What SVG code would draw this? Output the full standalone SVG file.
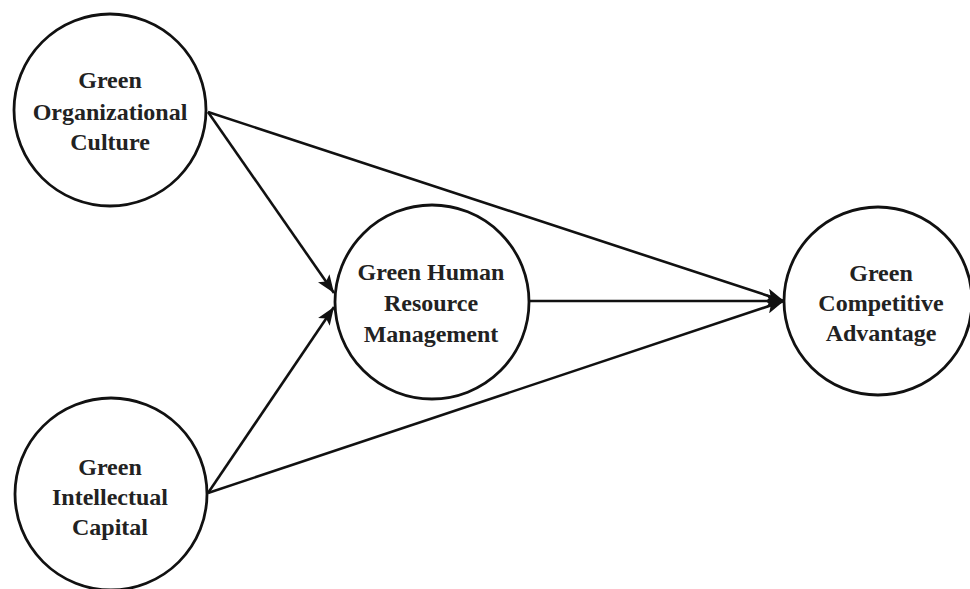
<svg xmlns="http://www.w3.org/2000/svg" width="970" height="589" viewBox="0 0 970 589">
<style>
.node circle{fill:#fff;stroke:#111;stroke-width:2.8}
.node text{font-family:"Liberation Serif","Times New Roman",serif;font-weight:bold;font-size:24px;fill:#222;text-anchor:middle}
.edge{stroke:#111;stroke-width:2.6;fill:none;marker-end:url(#arr)}
</style>
<defs>
<marker id="arr" viewBox="0 0 18 14" refX="18" refY="7" markerWidth="18" markerHeight="14" markerUnits="userSpaceOnUse" orient="auto">
<path d="M0,0 L18,7 L0,14 L4,7 z" fill="#111"/>
</marker>
</defs>
<rect width="970" height="589" fill="#fff"/>
<g id="connectors">
<line class="edge" x1="208" y1="112" x2="334" y2="293"/>
<line class="edge" x1="208" y1="112" x2="784" y2="301"/>
<line class="edge" x1="208" y1="493" x2="334" y2="307"/>
<line class="edge" x1="208" y1="493" x2="784" y2="301"/>
<line class="edge" x1="530" y1="301" x2="784" y2="301"/>
</g>
<g id="goc" class="node">
<circle cx="110" cy="110" r="96"/>
<text x="110" y="88">Green</text>
<text x="110" y="120">Organizational</text>
<text x="110" y="150">Culture</text>
</g>
<g id="gic" class="node">
<circle cx="111" cy="494" r="96"/>
<text x="110" y="475">Green</text>
<text x="110" y="505">Intellectual</text>
<text x="110" y="535">Capital</text>
</g>
<g id="ghrm" class="node">
<circle cx="432" cy="302" r="97"/>
<text x="431" y="280">Green Human</text>
<text x="431" y="311">Resource</text>
<text x="431" y="342">Management</text>
</g>
<g id="gca" class="node">
<circle cx="878" cy="301" r="94"/>
<text x="881" y="281">Green</text>
<text x="881" y="311">Competitive</text>
<text x="881" y="341">Advantage</text>
</g>
</svg>
